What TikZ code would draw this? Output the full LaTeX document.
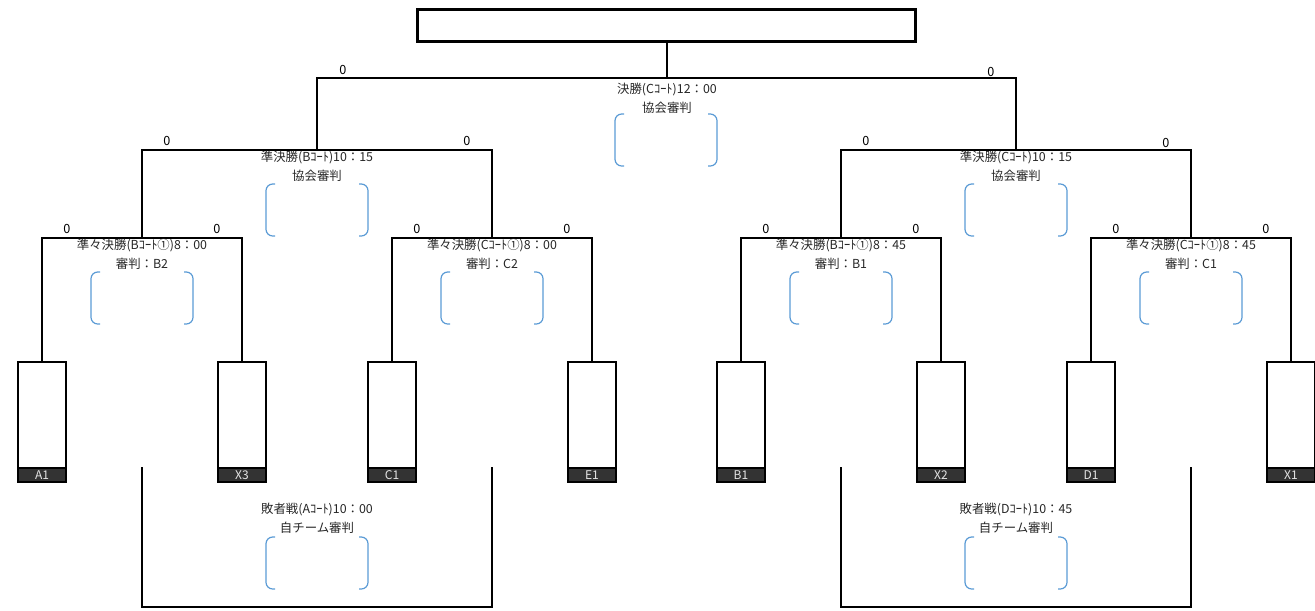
\documentclass[tikz,border=0pt]{standalone}
\usepackage{fontspec}
\setmainfont{Noto Sans CJK JP}
\usepackage{tikz}
\definecolor{refblue}{HTML}{5B9BD5}
\definecolor{bandgray}{HTML}{333333}

\begin{document}
\begin{tikzpicture}
  [x=0.75pt,y=-0.75pt,
   line/.style={black,line width=1.5pt},
   winner/.style={rectangle,draw=black,line width=2.25pt,minimum width=373.5pt,minimum height=24pt,inner sep=0pt},
   team/.style={rectangle,draw=black,line width=1.5pt,minimum width=36pt,minimum height=90pt,inner sep=0pt,anchor=north},
   tag/.style={rectangle,draw=black,fill=bandgray,text=black!10,line width=1.5pt,minimum width=36pt,minimum height=10.5pt,inner sep=0pt,anchor=south,font=\fontsize{9}{9}\selectfont},
   score/.style={inner sep=0pt,font=\fontsize{9.5}{10}\selectfont},
   info/.style={align=center,inner sep=0pt,text=black!85,font=\fontsize{9.3}{14.25}\selectfont},
   judge/.style={refblue,line width=0.9pt,rounded corners=5pt}]
		\useasboundingbox (0,0) rectangle (1315,611);
		% title box
		\node (W) [winner] at (666.5,25.5) {};
		% teams
		\foreach \x/\t [count=\i] in {42/A1,242/X3,392/C1,592/E1,741/B1,941/X2,1091/D1,1291/X1} {
			\node (T\i) [team] at (\x,361) {};
			\node (B\i) [tag] at (T\i.south) {\t};
		}
		% junctions
		\coordinate (Q1) at (142,238);
		\coordinate (Q2) at (492,238);
		\coordinate (Q3) at (841,238);
		\coordinate (Q4) at (1191,238);
		\coordinate (S1) at (317,150);
		\coordinate (S2) at (1016,150);
		\coordinate (F) at (666.5,78);
		\draw[line] (T1.north) |- (Q1) -| (T2.north);
		\draw[line] (T3.north) |- (Q2) -| (T4.north);
		\draw[line] (T5.north) |- (Q3) -| (T6.north);
		\draw[line] (T7.north) |- (Q4) -| (T8.north);
		\draw[line] (Q1) |- (S1) -| (Q2);
		\draw[line] (Q3) |- (S2) -| (Q4);
		\draw[line] (S1) |- (F) -| (S2);
		\draw[line] (F) -- (W.south);
		% losers
		\coordinate (L1) at (142,467);
		\coordinate (L2) at (492,467);
		\coordinate (L3) at (841,467);
		\coordinate (L4) at (1191,467);
		\coordinate (LB1) at (317,607);
		\coordinate (LB2) at (1016,607);
		\draw[line] (L1) |- (LB1) -| (L2);
		\draw[line] (L3) |- (LB2) -| (L4);
		% scores
		\foreach \x/\y [count=\i] in {67/229,217/229,417/229,567/229,766/229,916/229,1116/229,1266/229,
			167/141,467/141,866/141,1166/143,343/70,991/72} {
			\node (Z\i) [score] at (\x,\y) {0};
		}
		% match info
		\node (IF) [info] at (667,98) {決勝(Cｺｰﾄ)12：00\\協会審判};
		\node (IS1) [info] at (317,166) {準決勝(Bｺｰﾄ)10：15\\協会審判};
		\node (IS2) [info] at (1016,166) {準決勝(Cｺｰﾄ)10：15\\協会審判};
		\node (IQ1) [info] at (142,254) {準々決勝(Bｺｰﾄ①)8：00\\審判：B2};
		\node (IQ2) [info] at (492,254) {準々決勝(Cｺｰﾄ①)8：00\\審判：C2};
		\node (IQ3) [info] at (841,254) {準々決勝(Bｺｰﾄ①)8：45\\審判：B1};
		\node (IQ4) [info] at (1191,254) {準々決勝(Cｺｰﾄ①)8：45\\審判：C1};
		\node (IL1) [info] at (317,518) {敗者戦(Aｺｰﾄ)10：00\\自チーム審判};
		\node (IL2) [info] at (1016,518) {敗者戦(Dｺｰﾄ)10：45\\自チーム審判};
		% referee brackets
		\foreach \cx/\ty in {666/114,317/184,1016/184,142/272,492/272,841/272,1191/272,317/537,1016/537} {
			\draw[judge] (\cx-42,\ty) -- (\cx-51,\ty) -- (\cx-51,\ty+52) -- (\cx-42,\ty+52);
			\draw[judge] (\cx+42,\ty) -- (\cx+51,\ty) -- (\cx+51,\ty+52) -- (\cx+42,\ty+52);
		}
\end{tikzpicture}
\end{document}
